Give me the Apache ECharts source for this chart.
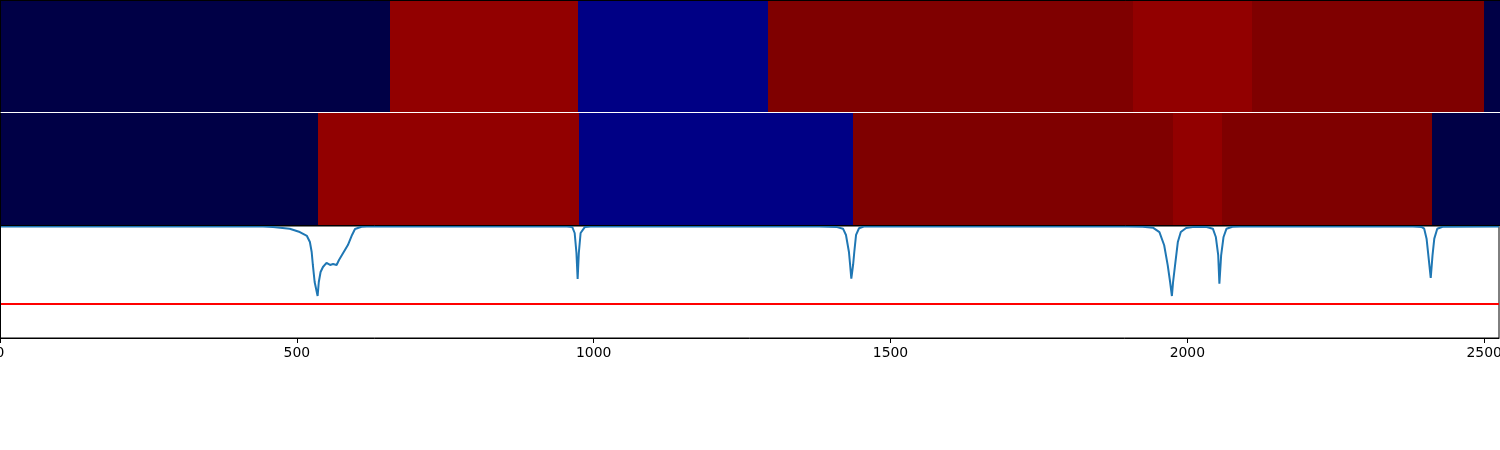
<!DOCTYPE html>
<html>
<head>
<meta charset="utf-8">
<script src="https://cdn.jsdelivr.net/npm/echarts@6/dist/echarts.min.js"></script>
<style>
html,body{margin:0;padding:0;background:#fff;}
#chart{width:1500px;height:450px;}
</style>
</head>
<body>
<div id="chart"></div>
<script>
// ---- data ----
const xMax = 2525;
const xTickValues = [0, 500, 1000, 1500, 2000, 2500];

// segment boundaries and class levels (0 navy, 1 blue, 2 white, 3 red, 4 dark red)
const row1Breaks = [0, 656, 973, 1293, 1907, 2108, 2498, 2525];
const row1Levels = [0, 3, 1, 4, 3, 4, 0];
const row2Breaks = [0, 535, 975, 1436, 1975, 2057, 2411, 2525];
const row2Levels = [0, 3, 1, 4, 3, 4, 0];

// probability curve
const curveX = [0, 443, 460, 488, 505, 517, 522, 525, 527, 530, 535, 537, 540, 544, 550, 556, 561, 567, 571, 577, 586, 593, 598, 609, 618,
  955, 964, 968, 971, 973, 975, 978, 985, 995,
  1380, 1410, 1420, 1425, 1430, 1432, 1434, 1437, 1439, 1442, 1447, 1455,
  1900, 1925, 1942, 1953, 1961, 1967, 1971, 1974, 1976, 1980, 1984, 1989, 1998, 2009, 2031, 2043, 2048, 2052, 2054, 2057, 2061, 2066, 2076, 2090,
  2380, 2395, 2399, 2403, 2406, 2410, 2413, 2416, 2421, 2430, 2525];
const curveY = [0.995, 0.995, 0.99, 0.976, 0.946, 0.911, 0.857, 0.768, 0.652, 0.5, 0.375, 0.5, 0.589, 0.634, 0.67, 0.652, 0.66, 0.652, 0.696, 0.75, 0.83, 0.92, 0.973, 0.993, 0.995,
  0.995, 0.99, 0.9375, 0.759, 0.527, 0.759, 0.9375, 0.99, 0.995,
  0.995, 0.99, 0.976, 0.92, 0.768, 0.652, 0.53, 0.652, 0.768, 0.92, 0.98, 0.995,
  0.995, 0.993, 0.985, 0.946, 0.828, 0.649, 0.5, 0.375, 0.5, 0.679, 0.857, 0.946, 0.982, 0.99, 0.993, 0.976, 0.902, 0.741, 0.485, 0.741, 0.902, 0.976, 0.993, 0.995,
  0.995, 0.99, 0.976, 0.887, 0.738, 0.536, 0.738, 0.887, 0.976, 0.993, 0.995];
const threshold = 0.31;

// ---- styling ----
const levelColors = ['#000046', '#000085', '#ffffff', '#920000', '#7f0000'];

function segs(breaks, levels) {
  const out = [];
  for (let i = 0; i < levels.length; i++) out.push([breaks[i], breaks[i + 1], levels[i]]);
  return out;
}
function renderRect(params, api) {
  const a = api.coord([api.value(0), 1]);
  const b = api.coord([api.value(1), 0]);
  const x0 = Math.round(a[0]), x1 = Math.round(b[0]);
  const y0 = Math.round(a[1]), y1 = Math.round(b[1]);
  return {
    type: 'rect',
    shape: { x: x0, y: y0, width: x1 - x0, height: y1 - y0 },
    style: { fill: levelColors[api.value(2)] }
  };
}

const chart = echarts.init(document.getElementById('chart'), null, { renderer: 'canvas' });
const hiddenX = (idx, pos, line) => ({
  type: 'value', gridIndex: idx, min: 0, max: xMax, position: pos,
  axisLine: { show: line, onZero: false, lineStyle: { color: '#000', width: 1 } },
  axisTick: { show: false }, axisLabel: { show: false }, splitLine: { show: false }, z: 10
});
const hiddenY = (idx) => ({
  type: 'value', gridIndex: idx, min: 0, max: 1,
  axisLine: { show: true, onZero: false, lineStyle: { color: '#000', width: 1 } },
  axisTick: { show: false }, axisLabel: { show: false }, splitLine: { show: false }, z: 10
});

chart.setOption({
  animation: false,
  backgroundColor: '#fff',
  grid: [
    { left: 0, top: 0, width: 1500, height: 112, containLabel: false, outerBoundsMode: 'none' },
    { left: 0, top: 113, width: 1500, height: 112, containLabel: false, outerBoundsMode: 'none' },
    { left: 0, top: 226, width: 1499, height: 112, show: true, borderColor: '#000', borderWidth: 1, backgroundColor: 'transparent', containLabel: false, outerBoundsMode: 'none' }
  ],
  xAxis: [
    hiddenX(0, 'top', true),
    hiddenX(1, 'bottom', true),
    {
      type: 'value', gridIndex: 2, min: 0, max: xMax, position: 'bottom',
      axisLine: { show: true, onZero: false, lineStyle: { color: '#000', width: 1 } },
      axisTick: { show: true, length: 5, lineStyle: { color: '#000', width: 1 }, customValues: xTickValues },
      axisLabel: {
        show: true, color: '#000', fontSize: 13.9, fontFamily: 'DejaVu Sans', margin: 8,
        customValues: xTickValues, formatter: v => String(v)
      },
      splitLine: { show: false }
    }
  ],
  yAxis: [hiddenY(0), hiddenY(1), hiddenY(2)],
  series: [
    { type: 'custom', xAxisIndex: 0, yAxisIndex: 0, renderItem: renderRect, data: segs(row1Breaks, row1Levels), silent: true },
    { type: 'custom', xAxisIndex: 1, yAxisIndex: 1, renderItem: renderRect, data: segs(row2Breaks, row2Levels), silent: true },
    {
      type: 'line', xAxisIndex: 2, yAxisIndex: 2,
      data: curveX.map((x, i) => [x, curveY[i]]),
      showSymbol: false, symbol: 'none',
      lineStyle: { color: '#1f77b4', width: 2 },
      silent: true,
      markLine: {
        silent: true, symbol: ['none', 'none'], label: { show: false },
        lineStyle: { color: '#ff0000', width: 2, type: 'solid' },
        data: [{ yAxis: threshold }]
      }
    }
  ]
});
</script>
</body>
</html>
